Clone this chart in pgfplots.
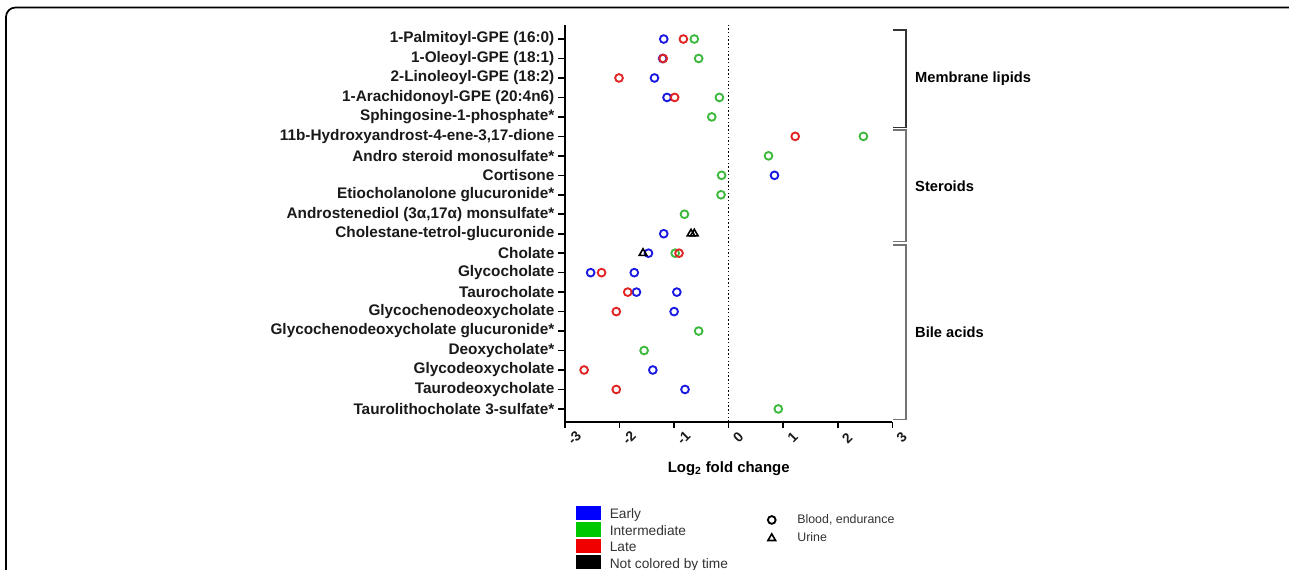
\documentclass[border=0pt]{standalone}
\usepackage{fontspec}
\setmainfont{Liberation Sans}
\usepackage{pgfplots}
\pgfplotsset{compat=1.18}
\definecolor{myblue}{RGB}{25,25,225}
\definecolor{mygreen}{RGB}{60,185,60}
\definecolor{myred}{RGB}{225,35,35}
\definecolor{legblue}{RGB}{0,0,255}
\definecolor{leggreen}{RGB}{0,200,0}
\definecolor{legred}{RGB}{240,0,0}
\begin{document}
\begin{tikzpicture}[x=1pt,y=1pt]
\useasboundingbox (0,0) rectangle (966.75,426.75);
\draw[line width=1.3pt, rounded corners=7pt] (4.5,-30) -- (4.5,421.1) -- (975,421.1) -- (975,-30);
\begin{axis}[
  at={(423.75pt,110.475pt)}, anchor=south west, scale only axis,
  width=245.5pt, height=297.5pt,
  xmin=-3, xmax=3, ymin=0.344, ymax=20.719,
  axis x line*=bottom, axis y line*=left,
  axis line style={line width=1.2pt, -},
  tick align=outside, major tick length=5pt,
  every tick/.style={black, line width=1.2pt},
  xtick={-3,-2,-1,0,1,2,3},
  xticklabels={-3,-2,-1,0,1,2,3},
  ytick={1,2,3,4,5,6,7,8,9,10,11,12,13,14,15,16,17,18,19,20},
  yticklabels={Taurolithocholate 3-sulfate*, Taurodeoxycholate, Glycodeoxycholate, Deoxycholate*, Glycochenodeoxycholate glucuronide*, Glycochenodeoxycholate, Taurocholate, Glycocholate, Cholate, Cholestane-tetrol-glucuronide, {Androstenediol (3α,17α) monsulfate*}, Etiocholanolone glucuronide*, Cortisone, Andro steroid monosulfate*, {11b-Hydroxyandrost-4-ene-3,17-dione}, Sphingosine-1-phosphate*, 1-Arachidonoyl-GPE (20:4n6), 2-Linoleoyl-GPE (18:2), 1-Oleoyl-GPE (18:1), 1-Palmitoyl-GPE (16:0)},
  yticklabel style={font=\fontsize{11.5}{13}\selectfont\bfseries, text=black!90, xshift=0.5pt},
  xticklabel style={font=\fontsize{10.5}{12}\selectfont\bfseries, rotate=45, anchor=center, yshift=-10pt, text=black!90},
  xlabel={Log\textsubscript{2} fold change},
  xlabel style={font=\fontsize{11.2}{13}\selectfont\bfseries, at={(axis description cs:0.5,-0.118)}, anchor=center},
  clip=false,
  legend cell align=left,
  legend style={at={(0.0315,-0.211)}, anchor=north west, draw=none, fill=none,
    font=\fontsize{10.3}{12}\selectfont, text=black!80, row sep=0pt, column sep=6pt, inner sep=0pt,
    nodes={inner sep=1.25pt}},
]
\addlegendimage{legend image code/.code={\fill[legblue] (0pt,-3.5pt) rectangle (18pt,6.5pt);}}
\addlegendentry{Early}
\addlegendimage{legend image code/.code={\fill[leggreen] (0pt,-3.5pt) rectangle (18pt,6.5pt);}}
\addlegendentry{Intermediate}
\addlegendimage{legend image code/.code={\fill[legred] (0pt,-3.5pt) rectangle (18pt,6.5pt);}}
\addlegendentry{Late}
\addlegendimage{legend image code/.code={\fill[black] (0pt,-3.5pt) rectangle (18pt,6.5pt);}}
\addlegendentry{Not colored by time}

% zero line
\addplot[forget plot, black, line width=1.1pt, dash pattern=on 1.1pt off 1.7pt] coordinates {(0,0.344) (0,20.719)};

% green: intermediate
\addplot[forget plot, only marks, mark=o, mygreen, mark options={line width=1.4pt, mark size=2.9pt}] coordinates {
(-0.63,20) (-0.55,19) (-0.17,17) (-0.31,16) (2.47,15) (0.73,14) (-0.13,13) (-0.14,12) (-0.81,11) (-0.98,9) (-0.55,5) (-1.55,4) (0.91,1)};
% blue: early
\addplot[forget plot, only marks, mark=o, myblue, mark options={line width=1.4pt, mark size=2.9pt}] coordinates {
(-1.19,20) (-1.21,19) (-1.36,18) (-1.13,17) (0.84,13) (-1.19,10) (-1.47,9) (-2.53,8) (-1.73,8) (-1.69,7) (-0.95,7) (-1.00,6) (-1.39,3) (-0.80,2)};
% red: late
\addplot[forget plot, only marks, mark=o, myred, mark options={line width=1.4pt, mark size=2.9pt}] coordinates {
(-0.83,20) (-1.20,19) (-2.01,18) (-0.99,17) (1.22,15) (-0.91,9) (-2.33,8) (-1.85,7) (-2.06,6) (-2.65,3) (-2.06,2)};
% black: urine
\addplot[forget plot, only marks, mark=triangle, black, mark options={line width=1.2pt, mark size=3.3pt}] coordinates {
(-0.69,10) (-0.63,10) (-1.57,9)};

% brackets
\draw[black!80, line width=1pt] (axis cs:3.01,20.46) -- (axis cs:3.25,20.46) -- (axis cs:3.25,15.47) -- (axis cs:3.01,15.47);
\draw[black!55, line width=1pt] (axis cs:3.01,15.33) -- (axis cs:3.25,15.33) -- (axis cs:3.25,9.59) -- (axis cs:3.01,9.59);
\draw[black!55, line width=1pt] (axis cs:3.01,9.42) -- (axis cs:3.25,9.42) -- (axis cs:3.25,0.47) -- (axis cs:3.01,0.47);
\node[anchor=west, font=\fontsize{11}{13}\selectfont\bfseries, inner sep=0pt] at (axis cs:3.415,17.95) {Membrane lipids};
\node[anchor=west, font=\fontsize{11}{13}\selectfont\bfseries, inner sep=0pt] at (axis cs:3.415,12.45) {Steroids};
\node[anchor=west, font=\fontsize{11}{13}\selectfont\bfseries, inner sep=0pt] at (axis cs:3.415,4.95) {Bile acids};
\end{axis}

\begin{axis}[
  at={(423.75pt,110.475pt)}, anchor=south west, scale only axis,
  width=245.5pt, height=297.5pt, hide axis,
  xmin=0, xmax=1, ymin=0, ymax=1,
  legend cell align=left,
  legend style={at={(0.619,-0.229)}, anchor=north west, draw=none, fill=none,
    font=\fontsize{9.3}{12}\selectfont, text=black!80, row sep=3pt, column sep=15pt, inner sep=0pt,
    nodes={inner sep=1.25pt}},
]
\addlegendimage{only marks, mark=o, black, mark options={line width=1.4pt, mark size=2.9pt}}
\addlegendentry{Blood, endurance}
\addlegendimage{only marks, mark=triangle, black, mark options={line width=1.2pt, mark size=3.3pt}}
\addlegendentry{Urine}
\end{axis}
\end{tikzpicture}
\end{document}
